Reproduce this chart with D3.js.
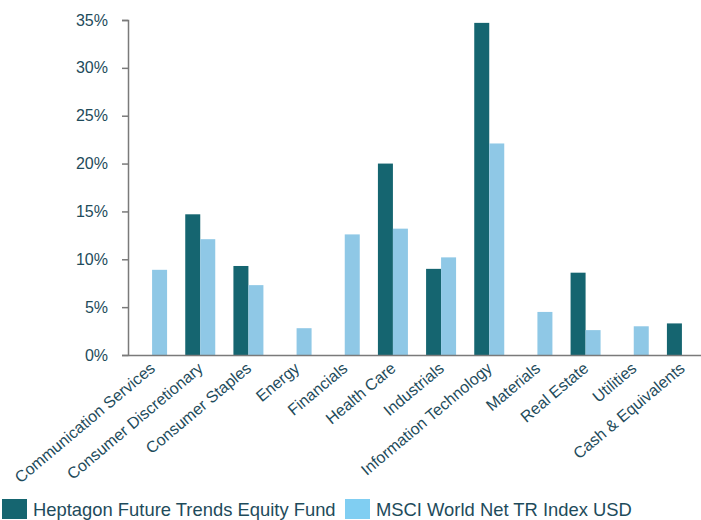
<!DOCTYPE html>
<html>
<head>
<meta charset="utf-8">
<script src="https://cdn.jsdelivr.net/npm/d3@7"></script>
<style>
  body { margin: 0; background: #fff; }
  text { font-family: "Liberation Sans", Arial, sans-serif; fill: #1e4b5b; }
</style>
</head>
<body>
<div id="chart-area"></div>
<script>
// DATA
const sectors = ["Communication Services", "Consumer Discretionary", "Consumer Staples", "Energy",
  "Financials", "Health Care", "Industrials", "Information Technology", "Materials",
  "Real Estate", "Utilities", "Cash & Equivalents"]
const fund = [0, 14.7, 9.3, 0, 0, 20.0, 9.0, 34.7, 0, 8.6, 0, 3.3]
const index = [8.9, 12.1, 7.3, 2.8, 12.6, 13.2, 10.2, 22.1, 4.5, 2.6, 3.0, 0]
const seriesNames = ["Heptagon Future Trends Equity Fund", "MSCI World Net TR Index USD"]
const yTicks = [0, 5, 10, 15, 20, 25, 30, 35]

const WIDTH = 701
const HEIGHT = 520
const COLORS = ["#156570", "#8fc8e6"]
const LEGEND_COLORS = ["#156570", "#80cef2"]

const svg = d3.select("#chart-area").append("svg")
  .attr("width", WIDTH)
  .attr("height", HEIGHT)

// SCALES
const x0 = d3.scaleBand()
  .domain(sectors)
  .range([128, 706])
  .paddingInner(0)
  .paddingOuter(0)
const x1 = d3.scaleBand()
  .domain([0, 1])
  .range([x0.bandwidth() / 2 - 15, x0.bandwidth() / 2 + 15])
const y = d3.scaleLinear()
  .domain([0, 35])
  .range([355, 20])

// BARS
const rows = sectors.map((s, i) => ({ sector: s, values: [fund[i], index[i]] }))
const groups = svg.selectAll("g.sector")
  .data(rows)
  .enter().append("g")
  .attr("class", "sector")
  .attr("transform", d => `translate(${x0(d.sector)}, 0)`)

groups.selectAll("rect")
  .data(d => d.values.map((v, k) => ({ k, v })).filter(e => e.v > 0))
  .enter().append("rect")
  .attr("x", d => x1(d.k))
  .attr("width", x1.bandwidth())
  .attr("y", d => y(d.v))
  .attr("height", d => y(0) - y(d.v))
  .attr("fill", d => COLORS[d.k])

// AXES
const yAxisCall = d3.axisLeft(y)
  .tickValues(yTicks)
  .tickFormat(d => d + "%")
  .tickSize(6)
  .tickPadding(14)
const yAxis = svg.append("g")
  .attr("transform", "translate(128, 0)")
  .call(yAxisCall)
yAxis.select(".domain").attr("stroke", "#7a7a7a").attr("stroke-width", 1.5)
yAxis.selectAll(".tick line").attr("stroke", "#7a7a7a").attr("stroke-width", 1.5)
yAxis.selectAll(".tick text").attr("font-size", "16px").attr("fill", "#1e4b5b")

const xAxisCall = d3.axisBottom(x0).tickSize(0).tickPadding(0)
const xAxis = svg.append("g")
  .attr("transform", "translate(0, 355)")
  .call(xAxisCall)
xAxis.select(".domain").attr("stroke", "#7a7a7a").attr("stroke-width", 1.5)
xAxis.selectAll(".tick text")
  .attr("font-size", "16px")
  .attr("fill", "#1e4b5b")
  .attr("text-anchor", "end")
  .attr("dy", 0)
  .attr("transform", "translate(4, 15) rotate(-40)")

// LEGEND
const legend = svg.append("g")
const legendX = [2, 345]
seriesNames.forEach((name, k) => {
  legend.append("rect")
    .attr("x", legendX[k])
    .attr("y", 499)
    .attr("width", 25)
    .attr("height", 20)
    .attr("fill", LEGEND_COLORS[k])
  legend.append("text")
    .attr("x", legendX[k] + 31)
    .attr("y", 516)
    .attr("font-size", "18.4px")
    .text(name)
})
</script>
</body>
</html>
